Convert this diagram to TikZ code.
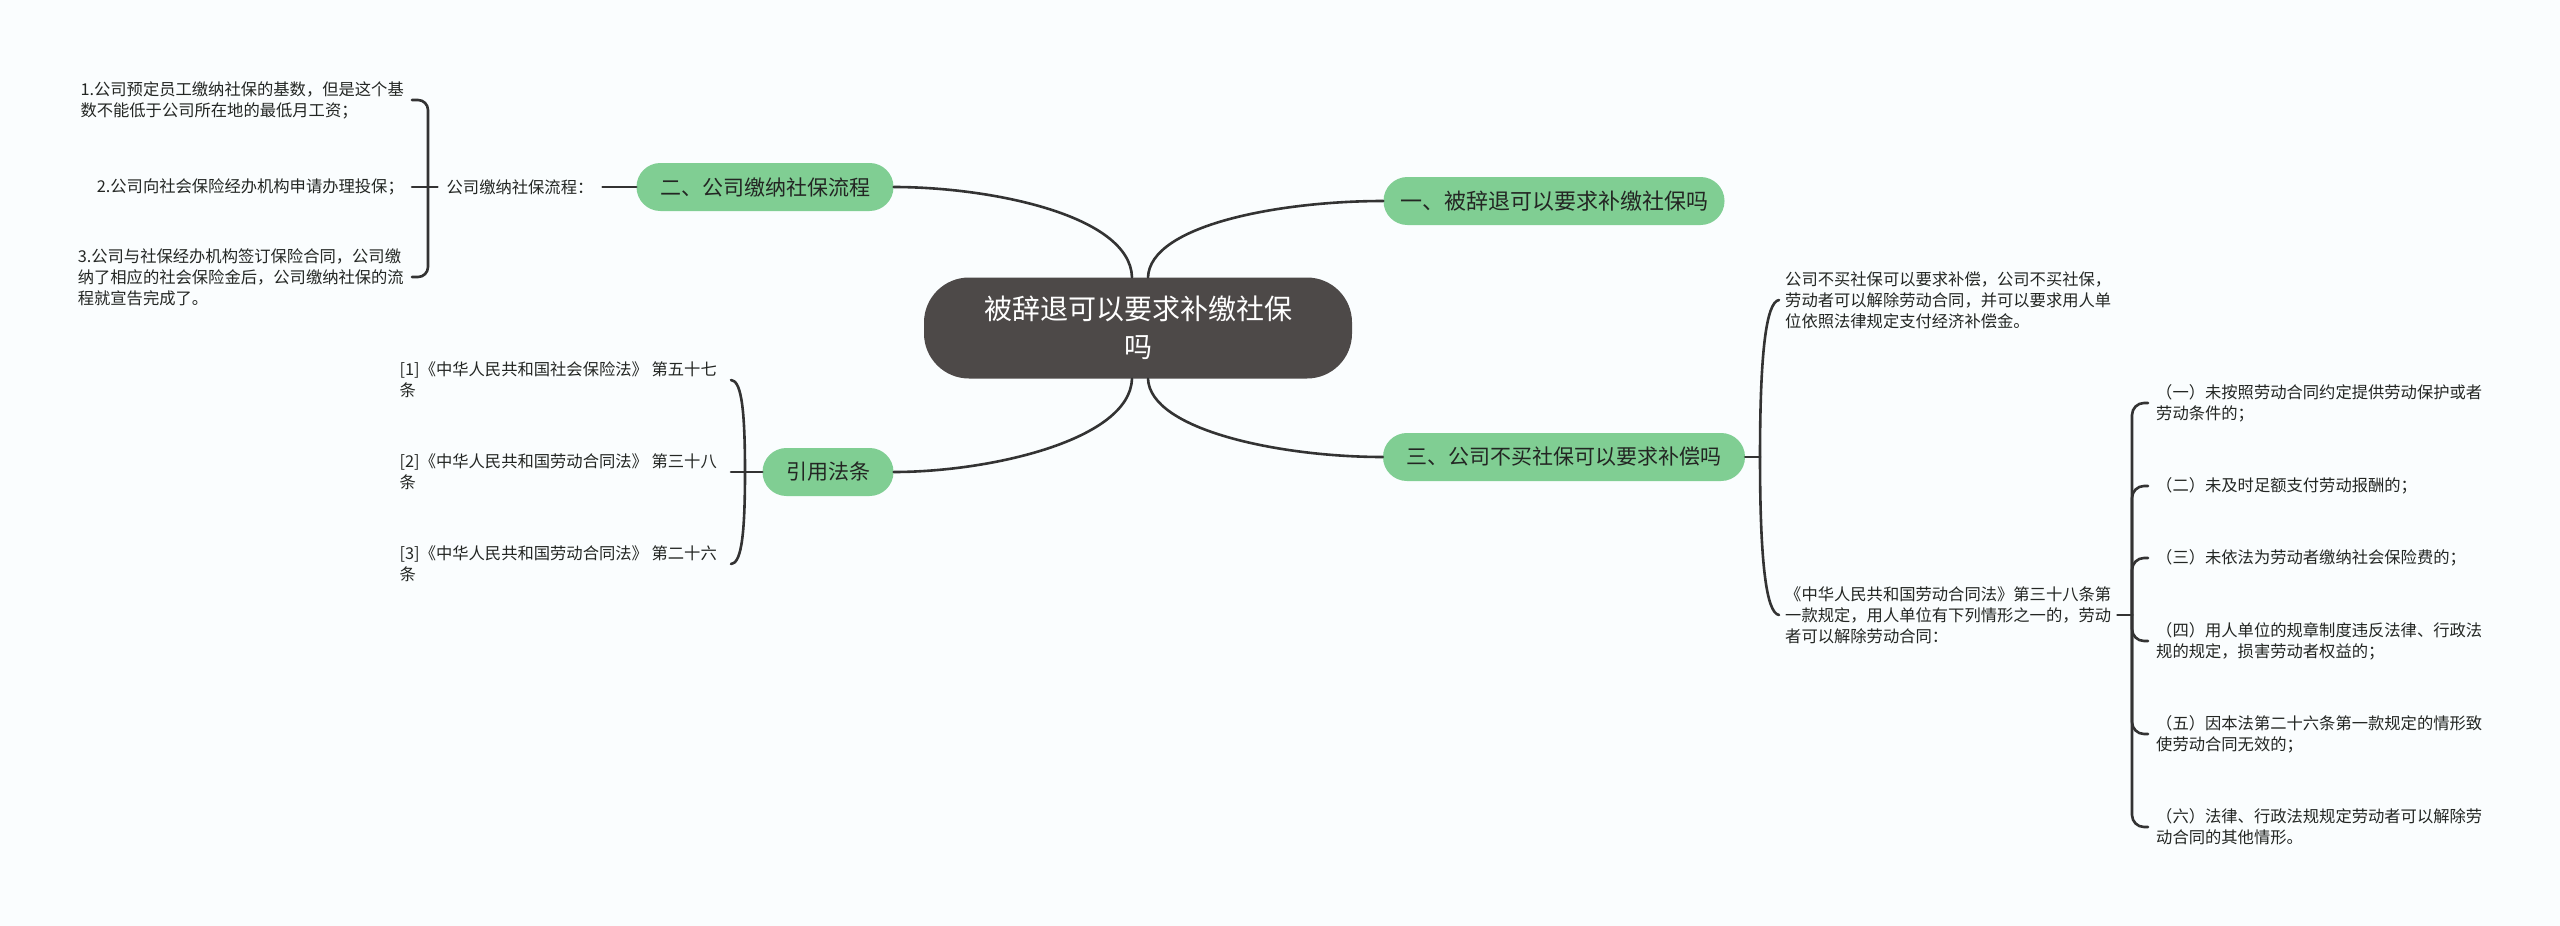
\documentclass[tikz,border=0pt]{standalone}
\usepackage{fontspec}
\newfontfamily\cjk{Noto Sans CJK SC}
\definecolor{bgc}{RGB}{250,253,254}
\definecolor{grn}{RGB}{128,206,147}
\definecolor{darkc}{RGB}{77,73,72}
\definecolor{lnc}{RGB}{51,51,51}
\definecolor{txc}{RGB}{35,38,35}
\begin{document}
\begin{tikzpicture}[x=1pt,y=-1pt,
  conn/.style={draw=lnc,line width=2.6pt,line cap=round},
  topic/.style={fill=grn,rounded corners=23.9pt,minimum height=48pt,inner xsep=0pt,inner ysep=0pt,text=txc,font=\cjk\fontsize{21}{26}\selectfont},
  txt/.style={inner xsep=#1,inner ysep=2pt,align=left,text=txc,font=\cjk\fontsize{16.3}{21}\selectfont},
  txt/.default=8pt]
\fill[bgc] (0,0) rectangle (2560,926);
\useasboundingbox (0,0) rectangle (2560,926);

% central topic
\node[fill=darkc,rounded corners=45pt,minimum width=428pt,minimum height=101pt,inner sep=0pt,
      text=white,align=center,font=\cjk\fontsize{28}{38}\selectfont] (C) at (1138,328)
      {被辞退可以要求补缴社保\\吗};

% main topics
\node[topic,minimum width=341pt,font=\cjk\fontsize{22}{26}\selectfont] (n1) at (1554,201) {一、被辞退可以要求补缴社保吗};
\node[topic,minimum width=257pt] (n2) at (765,187) {二、公司缴纳社保流程};
\node[topic,minimum width=362pt] (n3) at (1564,457) {三、公司不买社保可以要求补偿吗};
\node[topic,minimum width=131pt] (n4) at (828,472) {引用法条};

\draw[conn] ([xshift=-6pt]C.north) .. controls (1130,215) and (990,187) .. (n2.east);
\draw[conn] ([xshift=10pt]C.north) .. controls (1150,225) and (1280,201) .. (n1.west);
\draw[conn] ([xshift=-6pt]C.south) .. controls (1130,440) and (990,472) .. (n4.east);
\draw[conn] ([xshift=10pt]C.south) .. controls (1150,430) and (1280,457) .. (n3.west);

% branch 二
\node[txt=9pt] (L2) at (520,187) {公司缴纳社保流程：};
\draw[conn] (n2.west) -- (L2.east);
\coordinate (j2) at (428,187);
\draw[conn] (L2.west) -- (j2);
\node[txt,anchor=east] (a1) at (412,100) {1.公司预定员工缴纳社保的基数，但是这个基\\数不能低于公司所在地的最低月工资；};
\node[txt,anchor=east] (a2) at (412,187) {2.公司向社会保险经办机构申请办理投保；};
\node[txt,anchor=east] (a3) at (412,277) {3.公司与社保经办机构签订保险合同，公司缴\\纳了相应的社会保险金后，公司缴纳社保的流\\程就宣告完成了。};
\draw[conn,rounded corners=10pt] (j2) |- (a1.east);
\draw[conn] (j2) -- (a2.east);
\draw[conn,rounded corners=10pt] (j2) |- (a3.east);

% branch 引用法条
\coordinate (j4) at (745,472);
\draw[conn] (n4.west) -- (j4);
\node[txt=14pt,anchor=east] (b1) at (731,380) {[1]《中华人民共和国社会保险法》 第五十七\\条};
\node[txt=14pt,anchor=east] (b2) at (731,472) {[2]《中华人民共和国劳动合同法》 第三十八\\条};
\node[txt=14pt,anchor=east] (b3) at (731,564) {[3]《中华人民共和国劳动合同法》 第二十六\\条};
\draw[conn] (j4) .. controls (745,400) and (740,381) .. (b1.east);
\draw[conn] (j4) -- (b2.east);
\draw[conn] (j4) .. controls (745,544) and (740,563) .. (b3.east);

% branch 三
\coordinate (j3) at (1760,457);
\draw[conn] (n3.east) -- (j3);
\node[txt=6pt,anchor=west] (c1) at (1779,300) {公司不买社保可以要求补偿，公司不买社保，\\劳动者可以解除劳动合同，并可以要求用人单\\位依照法律规定支付经济补偿金。};
\node[txt=6pt,anchor=west] (c2) at (1779,615) {《中华人民共和国劳动合同法》第三十八条第\\一款规定，用人单位有下列情形之一的，劳动\\者可以解除劳动合同：};
\draw[conn] (j3) .. controls (1760,354) and (1766,302) .. (c1.west);
\draw[conn] (j3) .. controls (1760,560) and (1766,613) .. (c2.west);

\coordinate (j5) at (2132,615);
\draw[conn] (c2.east) -- (j5);
\node[txt,anchor=west] (d1) at (2148,403) {（一）未按照劳动合同约定提供劳动保护或者\\劳动条件的；};
\node[txt,anchor=west] (d2) at (2148,486) {（二）未及时足额支付劳动报酬的；};
\node[txt,anchor=west] (d3) at (2148,558) {（三）未依法为劳动者缴纳社会保险费的；};
\node[txt,anchor=west] (d4) at (2148,641) {（四）用人单位的规章制度违反法律、行政法\\规的规定，损害劳动者权益的；};
\node[txt,anchor=west] (d5) at (2148,734) {（五）因本法第二十六条第一款规定的情形致\\使劳动合同无效的；};
\node[txt,anchor=west] (d6) at (2148,827) {（六）法律、行政法规规定劳动者可以解除劳\\动合同的其他情形。};
\foreach \d in {d1,d2,d3,d4,d5,d6}
  \draw[conn,rounded corners=12pt] (j5) |- (\d.west);
\end{tikzpicture}
\end{document}
